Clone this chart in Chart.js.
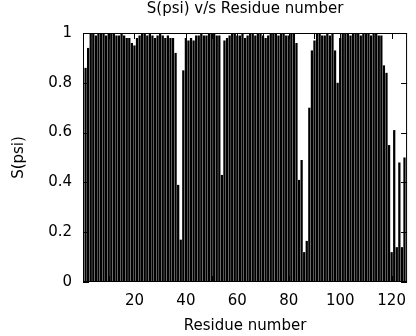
<!DOCTYPE html>
<html>
<head>
<meta charset="utf-8">
<script src="https://cdn.jsdelivr.net/npm/chart.js@4.4.1/dist/chart.umd.min.js"></script>
<style>
  html, body { margin: 0; padding: 0; background: #fff; }
  #wrap { width: 416px; height: 336px; }
</style>
</head>
<body>
<div id="wrap"><canvas id="chart" width="416" height="336"></canvas></div>
<script>
// S(psi) per residue
const sPsi = [
    0.86, 0.94, 1.0, 1.0, 0.99, 1.0, 1.0, 1.0, 0.99, 1.0,
    1.0, 1.0, 0.99, 0.99, 1.0, 0.99, 0.98, 0.98, 0.96, 0.95,
    0.98, 0.99, 1.0, 1.0, 0.99, 1.0, 0.99, 0.98, 0.99, 1.0,
    0.99, 0.98, 0.99, 0.98, 0.98, 0.92, 0.39, 0.17, 0.85, 0.98,
    0.97, 0.98, 0.97, 0.99, 0.99, 1.0, 0.99, 0.99, 1.0, 1.0,
    1.0, 0.99, 0.99, 0.43, 0.97, 0.98, 0.99, 1.0, 1.0, 0.99,
    0.99, 1.0, 0.98, 0.99, 1.0, 1.0, 0.99, 1.0, 1.0, 0.99,
    0.98, 0.99, 1.0, 1.0, 1.0, 0.99, 1.0, 1.0, 0.99, 0.99,
    1.0, 1.0, 0.96, 0.41, 0.49, 0.12, 0.165, 0.70, 0.93, 0.97,
    1.0, 1.0, 0.99, 0.99, 1.0, 0.99, 1.0, 0.93, 0.80, 0.98,
    1.0, 1.0, 1.0, 0.99, 1.0, 1.0, 1.0, 0.99, 1.0, 1.0,
    1.0, 0.99, 1.0, 1.0, 0.99, 0.99, 0.87, 0.84, 0.55, 0.12,
    0.61, 0.14, 0.48, 0.14, 0.50,
];
const residues = sPsi.map((v, i) => i + 1);

const xTicks = [20, 40, 60, 80, 100, 120];
const xTickMarks = [10, 20, 30, 40, 50, 60, 70, 80, 90, 100, 110, 120];
const yTicks = [0, 0.2, 0.4, 0.6, 0.8, 1];
const yTickLabels = ['0', '0.2', '0.4', '0.6', '0.8', '1'];

const chartTitle = 'S(psi) v/s Residue number';
const xTitle = 'Residue number';
const yTitle = 'S(psi)';

const FONT = '"DejaVu Sans", sans-serif';

// frame, inward tick marks and the three titles, gnuplot style
const framePlugin = {
    id: 'frame',
    afterDatasetsDraw(chart) {
        const { ctx, chartArea: a, scales } = chart;
        const x = scales.x, y = scales.y;
        ctx.save();
        ctx.strokeStyle = '#000';
        ctx.lineWidth = 1;
        ctx.beginPath();
        xTickMarks.forEach((v) => {
            const px = Math.round(x.getPixelForValue(v)) + 0.5;
            ctx.moveTo(px, a.bottom);
            ctx.lineTo(px, a.bottom - 6);
            ctx.moveTo(px, a.top);
            ctx.lineTo(px, a.top + 6);
        });
        yTicks.forEach((v) => {
            const py = Math.round(y.getPixelForValue(v)) + 0.5;
            ctx.moveTo(a.left, py);
            ctx.lineTo(a.left + 6, py);
            ctx.moveTo(a.right, py);
            ctx.lineTo(a.right - 6, py);
        });
        ctx.stroke();
        ctx.strokeRect(a.left + 0.5, a.top + 0.5, a.right - a.left - 1, a.bottom - a.top - 1);

        ctx.fillStyle = '#000';
        ctx.font = '15px ' + FONT;
        ctx.textAlign = 'center';
        ctx.textBaseline = 'alphabetic';
        const cx = (a.left + a.right) / 2;
        ctx.fillText(chartTitle, cx, 13);
        ctx.fillText(xTitle, cx, 330);
        ctx.translate(23, (a.top + a.bottom) / 2);
        ctx.rotate(-Math.PI / 2);
        ctx.fillText(yTitle, 0, 0);
        ctx.restore();
    },
};

const ctx = document.getElementById('chart').getContext('2d');

const myChart = new Chart(ctx, {
    type: 'bar',
    data: {
        datasets: [
            {
                data: residues.map((r, i) => ({ x: r, y: sPsi[i] })),
                backgroundColor: '#000',
                borderWidth: 0,
                barPercentage: 0.88,
                categoryPercentage: 1,
            },
        ],
    },
    options: {
        responsive: false,
        animation: false,
        devicePixelRatio: 1,
        layout: {
            padding: { left: 0, top: 33, right: 1, bottom: 0 },
        },
        plugins: {
            legend: { display: false },
            tooltip: { enabled: false },
        },
        scales: {
            x: {
                type: 'linear',
                min: 0,
                max: 126,
                offset: false,
                grid: { display: false, drawTicks: false },
                border: { display: false },
                afterBuildTicks: (s) => {
                    s.ticks = xTicks.map((v) => ({ value: v }));
                },
                afterFit: (s) => {
                    s.height = 54;
                },
                ticks: {
                    color: '#000',
                    font: { family: FONT, size: 15 },
                    padding: 10,
                    maxRotation: 0,
                    autoSkip: false,
                    callback: (val) => String(val),
                },
            },
            y: {
                min: 0,
                max: 1,
                grid: { display: false, drawTicks: false },
                border: { display: false },
                afterBuildTicks: (s) => {
                    s.ticks = yTicks.map((v) => ({ value: v }));
                },
                afterFit: (s) => {
                    s.width = 83;
                },
                ticks: {
                    color: '#000',
                    font: { family: FONT, size: 15 },
                    padding: 11,
                    autoSkip: false,
                    callback: (val, i) => yTickLabels[i],
                },
            },
        },
    },
    plugins: [framePlugin],
});
</script>
</body>
</html>
